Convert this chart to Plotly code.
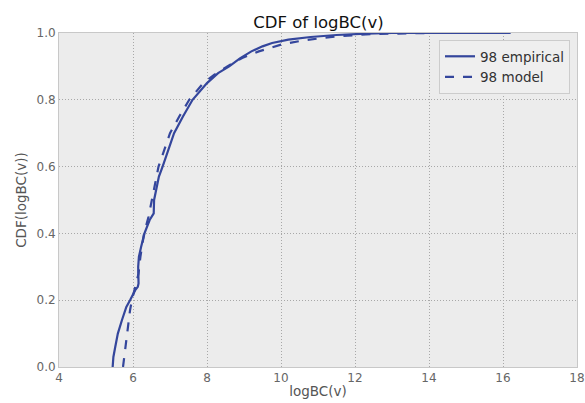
import plotly.graph_objects as go

# Empirical CDF
emp_x = [5.45, 5.47, 5.52, 5.59, 5.70, 5.82, 5.92, 6.06, 6.13, 6.15, 6.14, 6.16, 6.22, 6.31,
         6.45, 6.56, 6.57, 6.62, 6.70, 6.80, 6.95, 7.11, 7.35, 7.61, 8.00, 8.30, 8.60, 8.90,
         9.20, 9.50, 9.76, 10.2, 10.8, 11.5, 12.3, 13.0, 16.2]
emp_y = [0.0, 0.03, 0.06, 0.10, 0.14, 0.18, 0.20, 0.23, 0.24, 0.25, 0.30, 0.33, 0.36, 0.40,
         0.44, 0.46, 0.50, 0.53, 0.57, 0.60, 0.65, 0.70, 0.75, 0.80, 0.85, 0.88, 0.90, 0.925,
         0.945, 0.96, 0.97, 0.98, 0.988, 0.994, 0.998, 1.0, 1.0]

# Model CDF
mod_x = [5.73, 5.78, 5.84, 5.92, 5.97, 6.08, 6.15, 6.20, 6.30, 6.42, 6.52, 6.60, 6.69, 6.85,
         7.00, 7.25, 7.52, 7.90, 8.20, 8.55, 8.95, 9.40, 10.0, 10.6, 11.5, 12.5, 14.0, 16.2]
mod_y = [0.0, 0.05, 0.10, 0.17, 0.20, 0.25, 0.28, 0.33, 0.40, 0.45, 0.50, 0.55, 0.60, 0.65,
         0.70, 0.75, 0.80, 0.85, 0.875, 0.90, 0.925, 0.945, 0.965, 0.978, 0.99, 0.997, 1.0, 1.0]

x_ticks = [4, 6, 8, 10, 12, 14, 16, 18]
y_ticks = [0.0, 0.2, 0.4, 0.6, 0.8, 1.0]

color = "#34469c"
font = "DejaVu Sans"

fig = go.Figure()
fig.add_trace(go.Scatter(x=emp_x, y=emp_y, mode="lines", name="98 empirical",
                         line=dict(color=color, width=2.2)))
fig.add_trace(go.Scatter(x=mod_x, y=mod_y, mode="lines", name="98 model",
                         line=dict(color=color, width=2.2, dash="dash")))

axis_common = dict(showgrid=True, gridcolor="#a8a8a8", griddash="1px,2px", gridwidth=1,
                   zeroline=False, showline=True, mirror=True, linecolor="#c8c8c8",
                   linewidth=1, ticks="", automargin=False,
                   tickfont=dict(family=font, size=12, color="#666666"))

W, H = 585, 403
fig.update_layout(
    width=W, height=H,
    margin=dict(l=59, r=8, t=33, b=36),
    paper_bgcolor="white", plot_bgcolor="#ececec",
    font=dict(family=font, color="#444444"),
    title=dict(text="CDF of logBC(v)", x=318.5 / W, xanchor="center",
               y=1 - 22 / H, yanchor="middle", yref="container",
               font=dict(family=font, size=16.5, color="#111111")),
    xaxis=dict(range=[4, 18], tickvals=x_ticks,
               title=dict(text="logBC(v)", standoff=2, font=dict(family=font, size=13.5, color="#555555")),
               **axis_common),
    yaxis=dict(range=[0, 1], tickvals=y_ticks, tickformat=".1f",
               title=dict(text="CDF(logBC(v))", standoff=6, font=dict(family=font, size=13.5, color="#555555")),
               **axis_common),
    legend=dict(x=0.9865, y=0.979, xanchor="right", yanchor="top",
                bgcolor="#efefef", bordercolor="#cccccc", borderwidth=1, itemwidth=30,
                tracegroupgap=0,
                font=dict(family=font, size=13.5, color="#333333")),
    showlegend=True,
)

fig.write_html("out.html", config={"displayModeBar": False},
               post_script="document.body.style.margin='0';document.body.style.overflow='hidden';")
